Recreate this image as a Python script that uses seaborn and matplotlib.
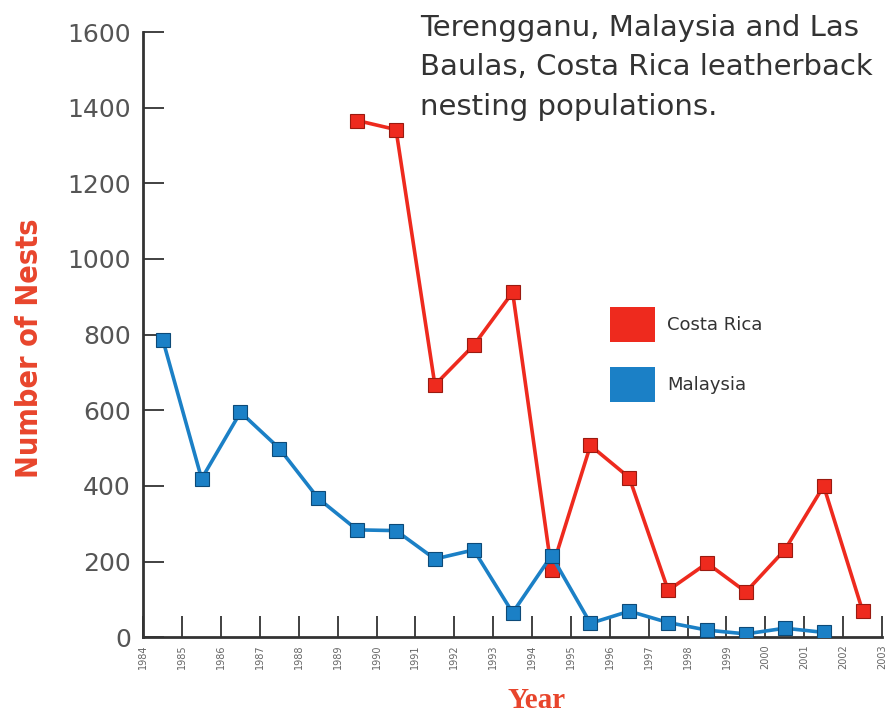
import matplotlib
matplotlib.use("Agg")
import matplotlib.pyplot as plt
import matplotlib.patches as mpatches
import numpy as np
import pandas as pd
import seaborn as sns

# ---- data ----
years_axis = list(range(1984, 2004))
malaysia_years = list(range(1984, 2002))
malaysia_nests = [787, 419, 595, 499, 367, 284, 282, 207, 231, 65, 216, 37, 69, 39, 19, 9, 24, 13]
costa_years = list(range(1989, 2003))
costa_nests = [1366, 1342, 667, 772, 912, 178, 507, 422, 124, 196, 120, 231, 400, 70]

series_names = ["Costa Rica", "Malaysia"]
title_text = "Terengganu, Malaysia and Las\nBaulas, Costa Rica leatherback\nnesting populations."

RED = "#ee2a1e"
BLUE = "#1b80c6"
RED_EDGE = "#9a1a10"
BLUE_EDGE = "#0d4a78"

sns.set_theme(style="white")
plt.rcParams["font.family"] = ["DejaVu Sans"]

fig = plt.figure(figsize=(8.96, 7.14), dpi=100)
ax = fig.add_axes([143.3 / 896, 1 - 637.3 / 714, (882 - 143.3) / 896, (637.3 - 32) / 714])

df_m = pd.DataFrame({"year": np.array(malaysia_years) + 0.5, "nests": malaysia_nests})
df_c = pd.DataFrame({"year": np.array(costa_years) + 0.5, "nests": costa_nests})

sns.lineplot(data=df_m, x="year", y="nests", ax=ax, color=BLUE, linewidth=2.6,
             marker="s", markersize=9.5, markeredgecolor=BLUE_EDGE, markeredgewidth=0.8,
             legend=False, zorder=3)
sns.lineplot(data=df_c, x="year", y="nests", ax=ax, color=RED, linewidth=2.6,
             marker="s", markersize=9.5, markeredgecolor=RED_EDGE, markeredgewidth=0.8,
             legend=False, zorder=2)

ax.set_xlim(1984, 2003)
ax.set_ylim(0, 1600)
ax.set_xticks(years_axis)
ax.set_xticklabels([str(y) for y in years_axis], rotation=90, fontsize=7, color="#666666")
ax.set_yticks(range(0, 1601, 200))
ax.set_yticklabels([str(v) for v in range(0, 1601, 200)], fontsize=18, color="#555555")

for side in ["top", "right"]:
    ax.spines[side].set_visible(False)
for side in ["left", "bottom"]:
    ax.spines[side].set_color("#333333")
    ax.spines[side].set_linewidth(2)

ax.tick_params(axis="both", which="major", direction="in", length=15, width=1.3,
               color="#333333", bottom=True, left=True, top=False, right=False)
ax.tick_params(axis="y", pad=9)
ax.tick_params(axis="x", pad=5)
ax.grid(False)

ax.set_xlabel("")
ax.set_ylabel("")
fig.text(30 / 896, 1 - 348 / 714, "Number of Nests", rotation=90, ha="center", va="center",
         fontsize=22, fontweight="bold", color="#e8452c",
         family=["Liberation Sans Narrow", "DejaVu Sans Condensed", "DejaVu Sans"],
         fontstretch="condensed")
fig.text(537 / 896, 1 - 700 / 714, "Year", ha="center", va="center",
         fontsize=21, fontweight="bold", color="#e8452c",
         family=["Liberation Serif", "DejaVu Serif"])

fig.text(420 / 896, 1 - 14 / 714, title_text, ha="left", va="top", fontsize=21,
         color="#333333", linespacing=1.52, family=["DejaVu Sans"])

handles = [mpatches.Patch(facecolor=RED, edgecolor="none", label=series_names[0]),
           mpatches.Patch(facecolor=BLUE, edgecolor="none", label=series_names[1])]
leg = fig.legend(handles=handles, loc="upper left",
                 bbox_to_anchor=(610 / 896, 1 - 307 / 714), frameon=False,
                 fontsize=13, handlelength=2.5, handleheight=2.6,
                 labelspacing=1.37, handletextpad=0.65, borderpad=0, borderaxespad=0)
for t in leg.get_texts():
    t.set_color("#333333")

fig.savefig("out.png", dpi=100)
